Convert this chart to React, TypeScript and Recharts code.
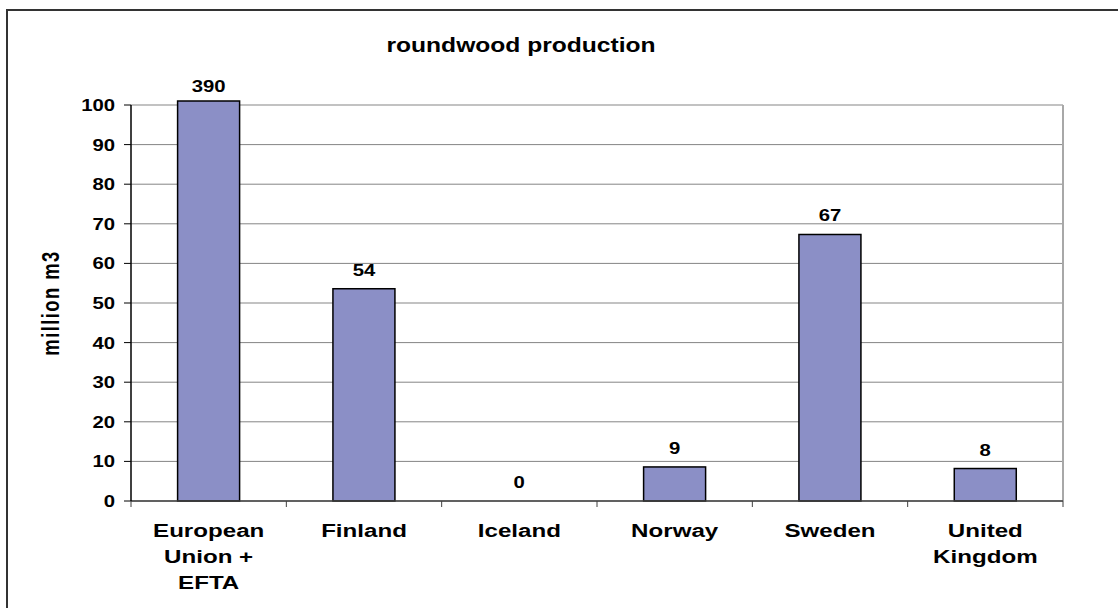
import React from 'react';
import { BarChart, Bar, XAxis, YAxis, CartesianGrid, LabelList, ReferenceLine } from 'recharts';

const categories = ["European\nUnion +\nEFTA", "Finland", "Iceland", "Norway", "Sweden", "United\nKingdom"];
const production = [390, 53.6, 0, 8.6, 67.3, 8.2];
const yTicks = [0, 10, 20, 30, 40, 50, 60, 70, 80, 90, 100];
const Y_MAX = 100;
const TITLE = "roundwood production";
const Y_LABEL = "million m3";

const data = categories.map((c, i) => ({
  name: c,
  value: production[i],
  shown: Math.min(production[i], Y_MAX),
}));

const FONT = '"Liberation Sans", Arial, sans-serif';
const BAR_FILL = '#8b8fc6';
const SX = 1.27;

function SText({ x, y, anchor, size, sx = SX, children }: any) {
  return (
    <text
      transform={`translate(${x},${y}) scale(${sx},1)`}
      textAnchor={anchor}
      fontSize={size}
      fontWeight="bold"
      fontFamily={FONT}
      fill="#000"
    >
      {children}
    </text>
  );
}

const YTick = (props: any) => {
  const { x, y, payload } = props;
  return <SText x={x} y={Number(y) + 6} anchor="end" size={16}>{payload.value}</SText>;
};

const XTick = (props: any) => {
  const { x, y, payload, index, visibleTicksCount, width } = props;
  const half = payload && payload.offset ? payload.offset : width / visibleTicksCount / 2;
  const lines = String(payload.value).split("\n");
  const isLast = index === visibleTicksCount - 1;
  return (
    <g>
      <line x1={x - half} x2={x - half} y1={y - 6} y2={y} stroke="#404040" strokeWidth={1} />
      {isLast && <line x1={x + half} x2={x + half} y1={y - 6} y2={y} stroke="#404040" strokeWidth={1} />}
      {lines.map((ln: string, i: number) => (
        <SText key={i} x={x} y={y + 30 + i * 26} anchor="middle" size={19}>{ln}</SText>
      ))}
    </g>
  );
};

const BarShape = (props: any) => {
  const { x, y, width, height, payload } = props;
  if (!height || height <= 0) return null;
  const over = payload.value > payload.shown ? 4 : 0;
  return (
    <rect x={x} y={y - over} width={width} height={height + over} fill={BAR_FILL} stroke="#000" strokeWidth={1.5} />
  );
};

const ValueLabel = (p: any) => {
  const x = Number(p.x) + Number(p.width) / 2;
  const y = Number(p.y) - 13;
  const v = data[p.index] ? data[p.index].value : p.value;
  return <SText x={x} y={y} anchor="middle" size={16}>{Math.round(v)}</SText>;
};

export default function App() {
  return (
    <div style={{ position: 'absolute', left: 0, top: 0, width: 1118, height: 608, overflow: 'hidden', background: '#fff' }}>
      <BarChart
        width={1118}
        height={608}
        data={data}
        margin={{ top: 105, right: 55, left: 0, bottom: 0 }}
        barCategoryGap="30%"
      >
        <CartesianGrid horizontal vertical={false} stroke="#858585" strokeWidth={1} />
        <XAxis
          dataKey="name"
          height={107}
          interval={0}
          tickLine={false}
          tickSize={6}
          tickMargin={0}
          axisLine={{ stroke: '#404040', strokeWidth: 1.5 }}
          tick={<XTick />}
        />
        <YAxis
          width={131}
          domain={[0, Y_MAX]}
          ticks={yTicks}
          interval={0}
          tickSize={7}
          tickMargin={9}
          axisLine={{ stroke: '#000', strokeWidth: 1.5 }}
          tickLine={{ stroke: '#000', strokeWidth: 1 }}
          tick={<YTick />}
        />
        <ReferenceLine x={categories[categories.length - 1]} position="end" stroke="#a8a8a8" strokeWidth={2} />
        <Bar dataKey="shown" isAnimationActive={false} shape={<BarShape />}>
          <LabelList dataKey="shown" content={<ValueLabel />} />
        </Bar>
      </BarChart>
      <svg width={1118} height={608} style={{ position: 'absolute', left: 0, top: 0, pointerEvents: 'none' }}>
        <rect x={7} y={10} width={1300} height={800} fill="none" stroke="#333" strokeWidth={2} />
        <SText x={521} y={51.5} anchor="middle" size={20} sx={1.23}>{TITLE}</SText>
        <text
          transform="translate(59,303) rotate(-90) scale(1,1.27)"
          textAnchor="middle"
          fontSize={18.5}
          fontWeight="bold"
          fontFamily={FONT}
          letterSpacing={1.4}
          fill="#000"
        >
          {Y_LABEL}
        </text>
      </svg>
    </div>
  );
}
